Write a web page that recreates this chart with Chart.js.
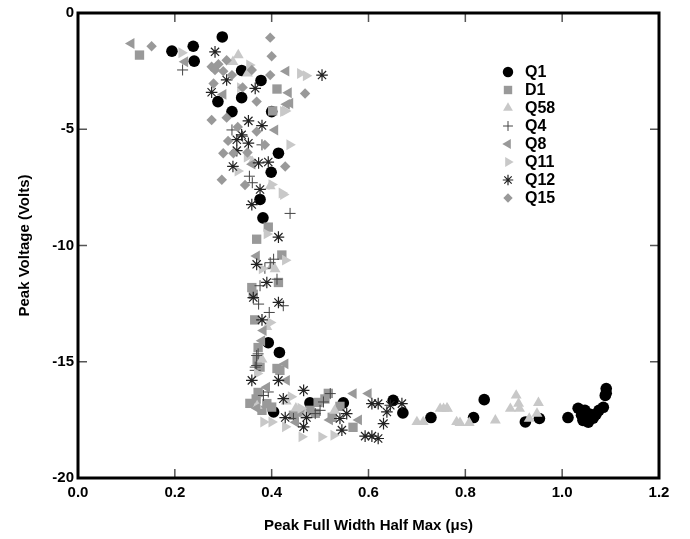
<!DOCTYPE html>
<html lang="en">
<head>
    <meta charset="UTF-8">
    <title>Peak Voltage vs FWHM</title>
    <script src="https://cdn.jsdelivr.net/npm/chart.js"></script>
    <style>
        body { margin: 0; background: #fff; }
        #wrap { width: 690px; height: 539px; }
    </style>
</head>
<body>
    <div id="wrap"><canvas id="myChart" width="690" height="539"></canvas></div>

    <script>
        // values: [FWHM (us), peak voltage (V)]
        const q1 = [[0.194,-1.64],[0.238,-1.43],[0.240,-2.07],[0.298,-1.03],[0.338,-2.47],[0.378,-2.90],[0.289,-3.81],[0.338,-3.64],[0.318,-4.24],[0.400,-4.24],[0.414,-6.03],[0.399,-6.85],[0.376,-8.02],[0.382,-8.81],[0.393,-14.18],[0.416,-14.60],[0.404,-17.16],[0.479,-16.77],[0.548,-16.77],[0.651,-16.66],[0.671,-17.20],[0.729,-17.40],[0.839,-16.63],[0.817,-17.40],[0.924,-17.59],[0.953,-17.44],[1.012,-17.40],[1.033,-17.00],[1.043,-17.52],[1.054,-17.60],[1.058,-17.26],[1.064,-17.43],[1.070,-17.26],[1.076,-17.09],[1.085,-16.96],[1.091,-16.36],[1.091,-16.15],[1.089,-16.45],[1.047,-17.09],[1.040,-17.30],[1.050,-17.40]];
        const d1 = [[0.127,-1.81],[0.411,-3.27],[0.402,-4.21],[0.393,-9.21],[0.369,-9.73],[0.421,-10.41],[0.359,-11.81],[0.414,-11.59],[0.376,-15.23],[0.411,-15.29],[0.372,-14.39],[0.370,-14.95],[0.417,-15.37],[0.372,-16.32],[0.355,-16.79],[0.380,-17.09],[0.517,-16.36],[0.459,-17.17],[0.496,-16.75],[0.541,-16.92],[0.479,-17.09],[0.490,-17.22],[0.525,-17.39],[0.568,-17.82],[0.365,-13.20],[0.390,-16.80],[0.362,-12.10],[0.368,-16.60],[0.445,-17.30],[0.510,-16.60],[0.400,-16.95]];
        const q58 = [[0.331,-1.81],[0.397,-7.45],[0.407,-11.02],[0.755,-17.02],[0.763,-17.02],[0.789,-17.63],[0.808,-17.63],[0.862,-17.52],[0.905,-16.45],[0.910,-16.80],[0.893,-17.02],[0.912,-17.02],[0.951,-16.77],[0.948,-17.23],[0.932,-17.44],[0.700,-17.59],[0.713,-17.59],[0.748,-17.02],[0.762,-17.00],[0.782,-17.59],[0.350,-2.60],[0.360,-6.40],[0.400,-10.90],[0.370,-16.90],[0.450,-17.00],[0.430,-16.70],[0.390,-13.50],[0.320,-2.10],[0.380,-14.90],[0.470,-17.30],[0.530,-17.10]];
        const q4 = [[0.216,-2.45],[0.318,-5.03],[0.380,-5.67],[0.354,-7.02],[0.438,-8.62],[0.404,-10.59],[0.397,-10.74],[0.386,-10.98],[0.411,-11.45],[0.376,-11.73],[0.424,-12.59],[0.395,-12.88],[0.373,-12.52],[0.369,-14.73],[0.369,-15.16],[0.366,-15.37],[0.372,-14.66],[0.366,-15.23],[0.383,-16.45],[0.393,-16.30],[0.445,-17.44],[0.507,-16.73],[0.500,-17.09],[0.521,-16.37],[0.490,-17.23],[0.340,-5.30],[0.360,-7.30]];
        const q8 = [[0.110,-1.31],[0.221,-2.10],[0.430,-2.50],[0.435,-3.43],[0.438,-3.88],[0.407,-5.03],[0.431,-3.93],[0.369,-10.45],[0.383,-13.66],[0.428,-15.09],[0.431,-15.80],[0.569,-16.37],[0.600,-16.37],[0.380,-14.10],[0.370,-17.00],[0.450,-17.60],[0.580,-17.50],[0.360,-6.50],[0.300,-3.50],[0.390,-16.10],[0.520,-17.50]];
        const q11 = [[0.214,-1.71],[0.459,-2.60],[0.471,-2.70],[0.335,-3.21],[0.354,-2.24],[0.428,-4.21],[0.437,-5.67],[0.421,-7.74],[0.400,-7.38],[0.349,-6.20],[0.424,-4.24],[0.424,-7.81],[0.428,-10.63],[0.397,-13.31],[0.383,-17.59],[0.400,-17.59],[0.428,-17.80],[0.462,-18.23],[0.503,-18.23],[0.528,-18.16],[0.380,-11.00],[0.370,-15.50],[0.440,-16.50],[0.460,-17.00],[0.330,-6.80],[0.390,-9.50]];
        const q12 = [[0.283,-1.67],[0.307,-2.88],[0.276,-3.41],[0.366,-3.24],[0.504,-2.67],[0.352,-4.64],[0.328,-5.45],[0.338,-5.24],[0.352,-5.60],[0.380,-4.84],[0.328,-5.92],[0.320,-6.60],[0.373,-6.45],[0.393,-6.41],[0.376,-7.59],[0.359,-8.24],[0.414,-9.64],[0.369,-10.81],[0.390,-11.59],[0.362,-12.24],[0.414,-12.45],[0.380,-13.20],[0.359,-15.80],[0.414,-15.80],[0.466,-16.23],[0.424,-16.59],[0.428,-17.40],[0.472,-17.40],[0.466,-17.80],[0.541,-17.44],[0.545,-17.94],[0.607,-16.80],[0.620,-16.80],[0.593,-18.20],[0.607,-18.20],[0.620,-18.30],[0.631,-17.66],[0.638,-17.16],[0.645,-16.87],[0.669,-16.80],[0.555,-17.23]];
        const q15 = [[0.152,-1.43],[0.397,-1.06],[0.400,-1.86],[0.397,-2.67],[0.469,-3.46],[0.369,-3.81],[0.307,-2.03],[0.359,-2.45],[0.276,-2.31],[0.283,-2.45],[0.318,-2.67],[0.280,-3.03],[0.276,-4.60],[0.307,-4.50],[0.369,-5.10],[0.300,-6.03],[0.321,-6.03],[0.428,-6.60],[0.297,-7.17],[0.386,-5.67],[0.290,-2.20],[0.300,-2.50],[0.330,-4.90],[0.350,-6.00],[0.340,-3.20],[0.310,-5.50],[0.345,-7.40]];

        const seriesNames = ['Q1', 'D1', 'Q58', 'Q4', 'Q8', 'Q11', 'Q12', 'Q15'];
        const xTicks = [0, 0.2, 0.4, 0.6, 0.8, 1.0, 1.2];
        const yTicks = [0, -5, -10, -15, -20];

        const FONT = 'Liberation Sans, Arial, Helvetica, sans-serif';
        const pts = arr => arr.map(p => ({ x: p[0], y: p[1] }));

        // marker look per series (same order as seriesNames)
        const styles = [
            { pointStyle: 'circle',   radius: 5.8, rotation: 0,   fill: '#000', stroke: '#000', bw: 0 },
            { pointStyle: 'rect',     radius: 6.6, rotation: 0,   fill: '#999', stroke: '#999', bw: 0 },
            { pointStyle: 'triangle', radius: 6.3, rotation: 0,   fill: '#c8c8c8', stroke: '#c8c8c8', bw: 0 },
            { pointStyle: 'cross',    radius: 5.5, rotation: 0,   fill: '#444', stroke: '#444', bw: 1 },
            { pointStyle: 'triangle', radius: 6.3, rotation: -90, fill: '#999', stroke: '#999', bw: 0 },
            { pointStyle: 'triangle', radius: 6.3, rotation: 90,  fill: '#c8c8c8', stroke: '#c8c8c8', bw: 0 },
            { pointStyle: 'star',     radius: 5.8, rotation: 0,   fill: '#000', stroke: '#222', bw: 1.2 },
            { pointStyle: 'rectRot',  radius: 5.2, rotation: 0,   fill: '#999', stroke: '#999', bw: 0 }
        ];
        const allData = [q1, d1, q58, q4, q8, q11, q12, q15];

        const datasets = allData.map((arr, i) => ({
            label: seriesNames[i],
            data: pts(arr),
            pointStyle: styles[i].pointStyle,
            pointRadius: styles[i].radius,
            pointRotation: styles[i].rotation,
            backgroundColor: styles[i].fill,
            borderColor: styles[i].stroke,
            pointBorderWidth: styles[i].bw,
            showLine: false,
            order: 8 - i  // Q1 drawn first, at the bottom
        }));

        // inward ticks on all four sides + heavy frame
        const framePlugin = {
            id: 'frame',
            afterDatasetsDraw(chart) {
                const { ctx, chartArea: a, scales } = chart;
                ctx.save();
                ctx.strokeStyle = '#555';
                ctx.lineWidth = 1.5;
                ctx.beginPath();
                xTicks.forEach(v => {
                    const px = scales.x.getPixelForValue(v);
                    ctx.moveTo(px, a.bottom); ctx.lineTo(px, a.bottom - 9);
                    ctx.moveTo(px, a.top); ctx.lineTo(px, a.top + 9);
                });
                yTicks.forEach(v => {
                    const py = scales.y.getPixelForValue(v);
                    ctx.moveTo(a.left, py); ctx.lineTo(a.left + 9, py);
                    ctx.moveTo(a.right, py); ctx.lineTo(a.right - 9, py);
                });
                ctx.stroke();
                ctx.strokeStyle = '#000';
                ctx.lineWidth = 3;
                ctx.strokeRect(a.left, a.top, a.right - a.left, a.bottom - a.top);
                ctx.restore();
            }
        };

        // legend inside the plot, top right
        const legendPlugin = {
            id: 'innerLegend',
            afterDraw(chart) {
                const { ctx, chartArea: a } = chart;
                const mx = a.left + 430, tx = a.left + 447;
                ctx.save();
                ctx.font = 'bold 16px ' + FONT;
                ctx.textBaseline = 'middle';
                seriesNames.forEach((name, i) => {
                    const y = a.top + 59 + i * 18;
                    const s = styles[i];
                    ctx.fillStyle = s.fill;
                    ctx.strokeStyle = s.stroke;
                    ctx.lineWidth = s.bw;
                    Chart.helpers.drawPoint(ctx, {
                        pointStyle: s.pointStyle,
                        radius: s.radius * 0.9,
                        rotation: s.rotation,
                        borderWidth: s.bw
                    }, mx, y);
                    ctx.fillStyle = '#000';
                    ctx.fillText(name, tx, y + 1);
                });
                ctx.restore();
            }
        };

        const ctx = document.getElementById('myChart').getContext('2d');
        const myChart = new Chart(ctx, {
            type: 'scatter',
            data: { datasets: datasets },
            options: {
                responsive: false,
                animation: false,
                layout: { padding: { top: 11, right: 31, left: 12, bottom: 0 } },
                plugins: {
                    legend: { display: false },
                    tooltip: { enabled: false }
                },
                scales: {
                    x: {
                        type: 'linear',
                        min: 0,
                        max: 1.2,
                        afterBuildTicks: s => { s.ticks = xTicks.map(v => ({ value: v })); },
                        afterFit: s => { s.height = 61; },
                        grid: { display: false, drawTicks: false },
                        border: { display: false },
                        ticks: {
                            padding: 6,
                            color: '#000',
                            font: { family: FONT, size: 15, weight: 'bold' },
                            callback: v => v.toFixed(1)
                        },
                        title: {
                            display: true,
                            text: 'Peak Full Width Half Max (\u03bcs)',
                            color: '#000',
                            font: { family: FONT, size: 15, weight: 'bold' },
                            padding: { top: 0, bottom: 4 }
                        }
                    },
                    y: {
                        type: 'linear',
                        min: -20,
                        max: 0,
                        afterBuildTicks: s => { s.ticks = yTicks.map(v => ({ value: v })); },
                        afterFit: s => { s.width = 66; },
                        grid: { display: false, drawTicks: false },
                        border: { display: false },
                        ticks: {
                            padding: 4,
                            color: '#000',
                            font: { family: FONT, size: 15, weight: 'bold' },
                            callback: v => String(v)
                        },
                        title: {
                            display: true,
                            text: 'Peak Voltage (Volts)',
                            color: '#000',
                            font: { family: FONT, size: 15, weight: 'bold' },
                            padding: { top: 4, bottom: 0 }
                        }
                    }
                }
            },
            plugins: [framePlugin, legendPlugin]
        });
    </script>
</body>
</html>
